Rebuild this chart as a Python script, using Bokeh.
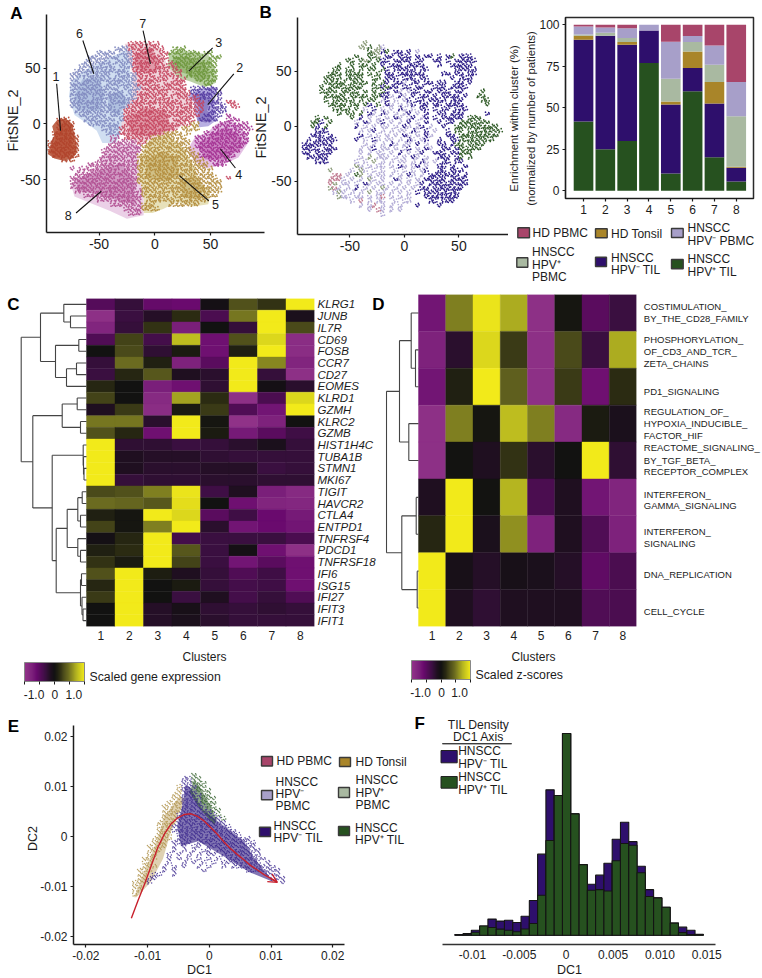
import math
import numpy as np
from bokeh.core.properties import value
from bokeh.embed import file_html
from bokeh.layouts import column, row
from bokeh.models import (Arrow, ColorBar, ColumnDataSource, FixedTicker, LinearAxis, LinearColorMapper,
                          OpenHead, Range1d)
from bokeh.plotting import figure
from bokeh.resources import INLINE
from bokeh.transform import transform

FONT = "Liberation Sans"
INK = "#1c1c1c"

# ---------------------------------------------------------------- condition colours
PINK, GOLD, LAV, SAGE, VIOLET, GREEN = "#A8456A", "#A98529", "#A79FC9", "#A9B9A1", "#2E0F6C", "#26511F"

# ---------------------------------------------------------------- panel A: outlines
HULL_COLOR = ["#BC5F45", "#B4ABE0", "#B6CFA0", "#E3BDE3", "#E6DFB6", "#CDDCF0", "#F0D3DA", "#EACDE6"]
DOT_COLOR = {"1": "#B0432B", "2": "#5238A0", "3": "#6C963A", "4": "#A22E90", "5": "#B18A38",
             "6": "#7F88BF", "7": "#C4425C", "8": "#B04C90"}
HULLS = [
    [(-96,-27),(-93,-17),(-90,-10),(-92,-2),(-88,3),(-80,5),(-74,0),(-72,-10),(-70,-18),(-70,-26),(-74,-31),(-82,-33),(-90,-31)],
    [(29,25),(38,30),(48,33),(55,33),(54,18),(55,3),(48,-2),(40,-3),(36,10),(35,20)],
    [(11,50),(13,63),(20,66),(38,64),(48,62),(54,50),(55,37),(45,33),(32,38),(20,42)],
    [(30,-22),(36,-12),(47,-8),(55,0),(68,3),(80,-6),(85,-15),(75,-30),(60,-37),(45,-40),(35,-33)],
    [(-14,-35),(-8,-20),(0,-10),(12,-10),(26,-22),(35,-38),(42,-55),(50,-60),(48,-72),(35,-74),(20,-70),(8,-76),(-2,-80),(-10,-80),(-10,-60),(-14,-48)],
    [(-77,25),(-75,38),(-65,47),(-50,55),(-35,62),(-22,68),(-22,40),(-20,22),(-28,10),(-28,-3),(-35,-17),(-47,-17),(-52,-6),(-60,0),(-72,8)],
    [(-27,72),(-12,72),(-3,72),(5,66),(12,52),(22,40),(28,30),(34,15),(32,5),(20,-5),(8,-10),(-14,-18),(-25,-14),(-30,0),(-27,15),(-20,25),(-20,45)],
    [(-75,-55),(-70,-48),(-60,-45),(-50,-38),(-42,-22),(-30,-18),(-15,-18),(-14,-35),(-14,-50),(-10,-60),(-10,-82),(-25,-85),(-40,-78),(-60,-70),(-72,-65)],
]
CORE_COLOR = ["#B5432A", "#4F389B", "#6B9236", "#A42C90", "#AE8C36", "#AE8C36", "#7F95C8", "#7F95C8", "#C8445C", "#C8445C", "#A94A92"]
CORES = [
    [(-94,-26),(-90,-16),(-86,-4),(-82,2),(-76,-2),(-74,-14),(-73,-26),(-82,-31),(-90,-30)],
    [(33,25),(42,28),(50,22),(47,12),(52,5),(46,1),(38,3),(40,15)],
    [(16,60),(30,60),(45,55),(50,42),(40,38),(28,45),(18,48)],
    [(38,-18),(50,-10),(65,-3),(78,-12),(78,-22),(62,-32),(45,-32)],
    [(-8,-32),(5,-25),(20,-30),(22,-45),(10,-52),(-8,-48)],
    [(22,-50),(35,-47),(45,-55),(40,-68),(25,-65)],
    [(-72,25),(-65,40),(-50,42),(-45,25),(-50,12),(-68,12)],
    [(-42,25),(-30,30),(-25,20),(-32,8),(-42,12)],
    [(-25,5),(-10,15),(10,12),(15,-5),(-5,-12),(-22,-8)],
    [(-18,62),(-3,68),(6,50),(-8,45),(-18,50)],
    [(-70,-50),(-50,-42),(-30,-35),(-18,-50),(-18,-72),(-35,-68),(-55,-62),(-70,-60)],
]
# Hand-drawn coarse occupancy map of the cloud (the individual cells cannot be read from the picture).
A_MAP = [
 "", 
 ".......... ........77 77777..... .......... ......",
 ".......... .....66677 777777..33 3......... ......",
 ".......... .6666.6667 7777.77333 3333.33... ......",
 ".........6 666666.667 7777777.33 33333.333. ......",
 "........66 6666.66667 777777.733 33333333.. ......",
 ".......666 66666.6667 777.777773 33333333.. ......",
 "......6666 66666666.7 7777777.77 .3333333.. ......",
 ".....66666 6666.66666 7777.77777 .3333333.. ......",
 ".....66.66 6666666666 7777777.77 7..33333.. ......",
 ".....66666 66.6666666 77777.7777 7....33... ......",
 ".....66666 666666.666 6777777777 7.222222.. ......",
 ".....66666 6666666.66 7777777.77 772222222. ......",
 ".....6666. 6666666666 77777777.7 7777222.2. ......",
 ".....66666 666.666667 7777777777 .7777.222. 77....",
 ".....66666 66666.6677 7777.77777 77777.2222 .77...",
 "......6666 666666.777 7777777777 77777.2222 ......",
 ".......666 666.666777 7777777777 7777.2222. 4.....",
 "..111...66 66666.6777 7777777.77 777.2222.. 444...",
 "..1111...6 666666.777 7777777777 7755....44 44444.",
 "..1111.... ..66667777 777777777. 5555...444 444444",
 ".11111.... ...6667777 7777775555 .5...44444 44444.",
 ".111111... ....88.777 7775555555 5..4444444 44444.",
 "1111111... ....888888 7755555555 55.4444444 44444.",
 "1111111... ...8888888 8555555555 55.4444444 4444..",
 "1111111... ..88888888 8555555555 555.444444 444...",
 ".111111... ..88888888 5555555555 5555444444 44....",
 "...111.... .888888888 5555555555 55555.4444 4.....",
 ".........8 8888888888 5555555.55 555555.444 ......",
 ".....8.888 888888.888 5555555555 5555555... ......",
 "......8888 8888888888 555.555555 5555555... ......",
 ".....88888 88888.8888 5555555555 55555555.. 7.....",
 ".....88888 8888888888 5555555555 555555555. ......",
 ".....88888 8888888888 .555555555 5.5555555. ......",
 "......8888 8888888888 8555555555 555555555. ......",
 "........88 8888888888 8555555.55 55555555.. ......",
 ".......... .888888888 8.55555555 555555.... ......",
 ".......... ....888888 8555...555 5555...... ......",
 ".......... .......888 85555..... .......... ......",
 ".......... ........88 8......... .......... ......",
]
LEADER_NAMES = ["1", "6", "7", "3", "2", "4", "5", "8"]
LEADER_LABEL_X = [-88.5, -67.5, -10.8, 57.4, 76.2, 75.3, 54.4, -77.7]
LEADER_LABEL_Y = [42.5, 81.4, 90.4, 73.4, 50.9, -45.5, -72.4, -82.3]
LEADER_X0 = [-88, -64.5, -10.5, 51.9, 70.9, 72.3, 48.4, -70.6]
LEADER_Y0 = [36, 74.9, 83.8, 68.3, 44.9, -39.5, -68.9, -79.9]
LEADER_X1 = [-84.5, -54.7, -3.9, 30.5, 47.5, 58.9, 22, -48]
LEADER_Y1 = [-6, 45, 53.9, 47.3, 17.4, -22.5, -46.4, -60.4]

# ---------------------------------------------------------------- panel B: coarse condition map
B_COLOR = {"p": "#2A1A86", "g": "#2F5A26", "l": "#B3ACD6", "m": "#C07A90", "o": "#8A9A78"}
B_MAP = [
 ".......... ....o..... .......... .......... ......",
 ".......... ...oog.ol. .......... .......... ......",
 ".......... .....goopg .pp.p.l... .......... ......",
 ".......... ..g..ggo.p p.ppp.p.pp .p.pg.ppp. ......",
 ".......... gg.gog.gpp .pppp.pp.. pp.p.ppppp ......",
 "........g. .g.gg.g.p. ppp.pppp.. .p..ppppp. ......",
 ".......gg. gg.g.gg.gp .ppppp.pp. .....ppppp ......",
 "......ggg. gggg.g.g.p p.pppppp.. ..pp.pp.pp ......",
 ".....gggg. gggg..gg.p pp.ppp.pp. ....p.ppp. ......",
 ".....ggggg .gggg.g.gp .ppl.pp.pp .pp..pp.p. ......",
 "....g.gggg gggg..ggpg pp.pp.pp.. ppp.pppp.. ......",
 "....gggg.g ggg.g.g.gp .pl.lpp.pp .ppp.pp... .g....",
 ".....ggggg .gggg.ggpp l.pl.p.pp. p.pppp.p.. gg....",
 ".....g.ggg gg.g.gg.lp .l.lp.pp.p ppp.ppp... .gg...",
 "......gggg .gg.gp.g.p l.l.lp.pp. pp.pppp... ..g...",
 ".......ggg g.g.l.p.l. l.pl.l.pp. p.pp.ppp.. ......",
 "........g. gg.g.pl.pl .l.lp.l.p. .pp.ppp... ..p...",
 "...g.g.... .g.p.l.l.l .pl.lp.lp. p.ppppp.gg g.....",
 "..ggp.g... ..l.pl.lp. l.l.p.l.p. .p.pp.gggg ggg...",
 "..gp.g.... ..p.l.l.ll .l.pl.lp.l ..p..ggggg ggggg.",
 "...ppp.... ...l.lp.l. l.ll.pl.p. l..p.gg.gg gggggg",
 "..ppp.p... ...p.l.l.l .l.pl.l.pl ...pp.gggg ggggg.",
 ".p.ppppp.. ..p.l.pl.l l.l.pl.lp. .p..ppgggg gggg..",
 "ppppppp... ....l.l.l. pl.ll.p.l. .pp.pgg.gg gg....",
 "pppp.ppp.. ...l.lp.ll .l.lp.l.pl ..pp.pgggg g.....",
 "pp.pppp... ...l.l.ll. l.p.l.lp.. ppp.ppggg. ......",
 ".ppppp.... ...l.o.lll .l.l.pl.l. .ppp.pg.g. ......",
 "...ppp.... ..l.l.o.l. l.ll.l.pl. l.pp.pp... ......",
 ".......... ..ol.l.ll. l.pl.lp.l. .pp.p..p.. ......",
 "......o... .l.ol.l.l. .l.l.l.lp. .pp.ppp... ......",
 ".......mm. l.go.l.ll. l.l.pl.l.p pppppp.p.. ......",
 "......mmml .l.l.ol.l. .pl.l.l.pp ppp.pppp.. ......",
 "......mo.l l.l.pl.ll. l.l.l.lp.p pppppppp.. ......",
 "......oml. l.p.l.l.ol .l.l.l.pp. ppppppp... ......",
 ".......lol .l.l.o.ll. l.l.l.p.pp pppppp.... ......",
 "........ol l.ll.l.lm. l.l.l...pp pppppp.... ......",
 ".......... .l.m.l.ll. .l.ll.... pp.ppp.... ......",
 ".......... ...l.lm.l. l.l...p... .p........ ......",
 ".......... .....l.ml. l.l....... .......... ......",
 ".......... ........l. .......... .......... ......",
]

# ---------------------------------------------------------------- stacked bars
BAR_CLUSTERS = [1, 2, 3, 4, 5, 6, 7, 8]
HPVP_TIL = [41.8, 25, 30, 77, 10.5, 60, 20.3, 5.6]
HPVN_TIL = [49.2, 68.4, 58, 19.6, 41.5, 14, 32.3, 8.3]
HD_TONSIL = [2.4, 0, 1.6, 0, 1.8, 10, 12.9, 0.6]
HPVP_PBMC = [0.8, 1.8, 2.4, 0, 13.7, 5.6, 10.5, 30.5]
HPVN_PBMC = [4.8, 3.2, 6, 3.4, 22.3, 3.6, 11.6, 20.5]
HD_PBMC = [1, 1.6, 2, 0, 10.2, 6.8, 12.4, 34.5]

# ---------------------------------------------------------------- heatmap C
GENES = ["KLRG1", "JUNB", "IL7R", "CD69", "FOSB", "CCR7", "CD27", "EOMES", "KLRD1", "GZMH", "KLRC2", "GZMB",
         "HIST1H4C", "TUBA1B", "STMN1", "MKI67", "TIGIT", "HAVCR2", "CTLA4", "ENTPD1", "TNFRSF4", "PDCD1",
         "TNFRSF18", "IFI6", "ISG15", "IFI27", "IFIT3", "IFIT1"]
GENE_VALUES = [
 [-.7,-.4,-.85,-.9,-.05,.5,.3,1.5],
 [-1.4,-.45,-.25,.25,-.6,.75,1.5,-.15],
 [-1.2,-.4,.3,-1.1,0,-.4,1.5,.45],
 [-.65,.4,-.55,1.15,-.95,.5,1.35,-1.35],
 [0,.45,-.35,.1,-.95,.15,1.5,-1.35],
 [-.4,.7,.15,-1.15,-.75,1.5,.85,-1.2],
 [-.45,.2,.55,-.2,-.3,1.5,-.4,-1.4],
 [.2,0,-1.1,-.95,-.35,1.5,-.05,-.3],
 [.4,0,-1.3,1.0,.25,-1.4,-.6,1.35],
 [-.2,.35,-1.35,.1,.35,-.65,-1.0,1.5],
 [.75,.75,-.3,1.5,.05,-1.45,-1.15,0],
 [.5,.2,-.95,1.5,.1,-1.05,-.75,-.5],
 [1.5,-.35,-.35,-.45,-.4,-.3,-.15,-.4],
 [1.5,-.2,-.25,-.25,-.35,-.4,-.4,-.4],
 [1.5,-.2,-.3,-.3,-.25,-.25,-.45,-.4],
 [1.5,-.4,-.35,-.35,-.3,-.3,-.35,-.35],
 [.45,.5,.8,1.45,-.5,-.2,-1.1,-1.3],
 [.7,.65,.55,1.4,0,-.95,-1.2,-1.25],
 [.15,.05,1.5,1.35,-.75,-.5,-.9,-1.05],
 [.4,.05,.8,1.5,-.3,-1.0,-.9,-1.0],
 [-.05,.2,1.5,-.55,-.45,-.45,-.45,-.6],
 [.15,.25,1.5,.55,-.45,-.05,-.95,-1.4],
 [.3,.1,1.5,.4,-.45,-1.0,-.75,-.95],
 [.5,1.5,.12,-.2,-.4,-.65,-.5,-.95],
 [.2,1.5,0,.1,-.4,-.55,-.5,-.95],
 [.35,1.5,0,-.45,-.2,-.55,-.4,-.65],
 [0,1.5,-.25,-.1,-.35,-.4,-.35,-.4],
 [0,1.5,-.25,-.15,-.3,-.4,-.4,-.4],
]
C_TREE = (20.7,
          (40, (63.3, 0, (70, 1, 2)), (55, (78.3, 3, 4), (66, (76, 5, 6), 7))),
          (32.3,
           (61.7, (76.7, 8, 9), (80, 10, 11)),
           (51.7,
            (82.7, 12, (83, 13, (83.5, 14, 15))),
            (55.7,
             (66.7, (77.3, (81.7, 16, 17), (80, 18, 19)), (77.3, 20, (80, 21, 22))),
             (80, (81, 23, 24), (81.5, 25, (82.5, 26, 27)))))))

# ---------------------------------------------------------------- heatmap D
PATHWAY_VALUES = [
 [-1.0,.8,1.45,1.05,-1.4,.05,-.75,-.45],
 [-1.15,-.3,1.35,.35,-1.4,.45,-.45,1.05],
 [-1.0,.15,1.5,.6,-1.4,.35,-.95,.25],
 [-1.4,.8,.05,1.15,.8,-1.3,.1,-.15],
 [-1.4,.02,-.2,.3,-.3,0,1.5,-.35],
 [-.2,1.5,.02,1.1,-.6,-.2,-1.0,-1.2],
 [.2,1.5,-.15,.9,-1.15,-.2,-.65,-1.15],
 [1.5,-.1,-.25,-.1,-.15,-.25,-.8,-.6],
 [1.5,-.2,-.35,-.2,-.2,-.2,-.65,-.6],
]
D_TREE = (386, (399, (410.7, 0, (415, 1, 2)), (408.3, 3, 4)), (401.3, (415.7, 5, 6), (416.7, 7, 8)))
PATHWAY_LINES = [
 ("COSTIMULATION_", 306), ("BY_THE_CD28_FAMILY", 318), ("PHOSPHORYLATION_", 338.7), ("OF_CD3_AND_TCR_", 350.7),
 ("ZETA_CHAINS", 362.7), ("PD1_SIGNALING", 391), ("REGULATION_OF_", 410.7), ("HYPOXIA_INDUCIBLE_", 422.7),
 ("FACTOR_HIF", 434.7), ("REACTOME_SIGNALING_", 447.3), ("BY_TGF_BETA_", 459.7), ("RECEPTOR_COMPLEX", 471.3),
 ("INTERFERON_", 494), ("GAMMA_SIGNALING", 505.3), ("INTERFERON_", 531.3), ("SIGNALING", 543.3),
 ("DNA_REPLICATION", 574.3), ("CELL_CYCLE", 611),
]

# ---------------------------------------------------------------- panel E
E_COLOR = {"g": "#AD8F45", "p": "#34208A", "n": "#2C5A24"}
E_GOLD = [(-.0122,-.0122),(-.0118,-.0122),(-.0095,-.0092),(-.0075,-.0045),(-.0062,.001),(-.0048,.005),(-.004,.0075),(-.0048,.008),(-.0073,.004),(-.0085,-.001),(-.0105,-.007)]
E_VIOLET = [(-.0039,.0102),(-.0031,.0098),(-.0012,.0055),(.0018,.0026),(.0056,-.001),(.0072,-.0042),(.009,-.007),(.0105,-.0092),(.0065,-.0072),(.003,-.0045),(-.0018,-.001),(-.0046,-.002),(-.0052,.002),(-.0043,.0065)]
E_GREEN = [(-.0025,.0112),(-.0017,.0102),(-.0003,.0072),(.0012,.0035),(.0008,.0022),(-.0015,.0055),(-.0032,.0088)]
E_MAP = [
 ".......... ..n", ".......... ppnn", ".......... ppnnn", ".........g pppnn", ".........g pppnnn",
 "........gg ppppnn", "........gg ppppnnn", ".......ggg ppppnnn", "......gggg pppppnn", "......gggg ppppppnn",
 "......gggp pppppppn", "......gggp ppppppppn", ".....ggggp ppppppppp", ".....gggpp pppppppppp",
 ".....gggpp pppppppppp p", ".....ggg.p pppppppppp pp", "....gggg.p pppppppppp pppp", "....ggg.pp pp.ppppppp ppppp",
 "...gggg.p. p.pp.ppppp ppppp", "...ggg..p. p.p.pp.ppp pppppp", "...gg..p.p .p.p.pp.pp pppppp",
 "..ggg..p.p .p.p.p.p.p ppppppp", "..gg...p.. p.p.p.p.pp pppppp.p", "..ggg.p.p. p..p.p..p. ppppppppp",
 ".ggg..p.p. ....p..... ...ppppppp", ".gg.pp..p. .......... .......ppp", ".ggpp..... .......... ........ppp",
 "gggp...... .......... ..........p", "gg", "gg", "g",
]
CURVE_X = [-.01263,-.01156,-.01048,-.00941,-.00833,-.00726,-.00618,-.00511,-.00403,-.00296,-.00188,-.00081,.00027,.00134,.00242,.00349,.00457,.00565,.00672,.0078,.00887,.00995,.01102]
CURVE_Y = [-.01639,-.01291,-.00957,-.00589,-.00221,.00047,.00247,.00368,.00435,.00448,.00395,.00301,.00167,.00033,-.0012,-.00254,-.00368,-.00475,-.00589,-.00676,-.00769,-.00843,-.00923]

# ---------------------------------------------------------------- panel F
F_BIN_START = -.01189
F_BIN_WIDTH = .000884
F_VIOLET = [.3,.8,2.5,4.6,8.0,7.0,7.4,6.3,9.4,17.2,40.2,72.1,69.3,100,60.2,35.0,25.3,29.8,35.7,47.6,56.0,46.4,34.2,22.6,18.5,13.9,6.0,4.0,2.5,.5]
F_GREEN = [0,.2,1.5,4.6,3.8,3.0,2.5,1.7,3.1,5.8,19.8,47.0,69.3,100,60.2,35.0,22.3,22.6,21.9,36.9,45.5,44.6,31.0,19.2,18.5,13.9,6.0,1.3,.3,.3]

# ---------------------------------------------------------------- helpers (all geometry in page pixels)
WIDTH, HEIGHT = 762, 978

# Text and legend keys sit outside the panels' frames, so they live on one transparent page-sized overlay.
ov = figure(width=WIDTH, height=HEIGHT, x_range=Range1d(0, WIDTH), y_range=Range1d(HEIGHT, 0), toolbar_location=None,
            output_backend="svg", min_border=0, x_axis_location=None, y_axis_location=None,
            background_fill_color=None, border_fill_color=None, outline_line_color=None,
            styles={"position": "absolute", "left": "0px", "top": "0px", "pointer-events": "none"})
ov.grid.visible = False

def panel(l, t, w, h, fl, ft, fr, fb, xr, yr, **kw):
    p = figure(width=w, height=h, x_range=Range1d(*xr), y_range=Range1d(*yr), toolbar_location=None,
               output_backend="svg", min_border_left=fl - l, min_border_right=l + w - fr,
               min_border_top=ft - t, min_border_bottom=t + h - fb, frame_align=False,
               background_fill_color=None, border_fill_color=None, outline_line_color=None, **kw)
    p.grid.visible = False
    return p

def style(ax, ticks, size, labels=None, line=True, tick=True, standoff=3, width=1.5, **kw):
    ax.ticker = FixedTicker(ticks=list(ticks))
    ax.minor_tick_line_color = None
    ax.major_label_text_font = FONT
    ax.major_label_text_font_size = f"{size}px"
    ax.major_label_text_color = INK
    ax.major_label_standoff = standoff
    ax.axis_line_color = INK if line else None
    ax.axis_line_width = width
    ax.major_tick_line_color = INK if tick else None
    ax.major_tick_line_width = 1.2
    ax.major_tick_out = 3 if tick else 0
    ax.major_tick_in = 0
    if labels:
        ax.major_label_overrides = labels
    for k, v in kw.items():
        setattr(ax, k, v)

def T(x, y, text, size=12, align="left", angle=0, bold=False, color=INK):
    ov.text([x], [y], text=[text], text_font=value(FONT), text_font_size=f"{size}px", text_align=align,
            text_baseline="middle", text_color=color, angle=angle, text_font_style="bold" if bold else "normal")

def swatch(x0, y0, x1, y1, color, line="#3a3a3a", lw=1.4):
    ov.quad(left=[x0], right=[x1], top=[y0], bottom=[y1], fill_color=color, line_color=line, line_width=lw)

# The clouds cannot be read point by point: each occupied map cell is drawn as a few dots, placed by this table.
CELL_SPOTS = [(.1, .7), (.55, .2), (.85, .6), (.3, .35), (.7, .95), (.2, .05), (.95, .3)]

def read_map(rows, x0, y0, dx, dy, dots=5):
    xs, ys, keys = [], [], []
    for r, text in enumerate(rows):
        for c, ch in enumerate(text.replace(" ", "")):
            if ch != ".":
                start = 3 * r * r + 5 * c * c + r * c
                for i in range(dots):
                    ox, oy = CELL_SPOTS[(start + i) % len(CELL_SPOTS)]
                    xs.append(x0 + (c + ox) * dx)
                    ys.append(y0 - (r - oy) * dy)
                    keys.append(ch)
    return xs, ys, keys

def poly(points):
    return [a for a, _ in points], [b for _, b in points]

# ---------------------------------------------------------------- A
TICKS50 = [-50, 0, 50]
LAB50 = {-50: "-50", 0: "0", 50: "50"}
a = panel(0, 0, 268, 290, 46, 14, 264, 232, (-97.1, 98.4), (-97.4, 98.2))
for hulls, colors, alpha in ((HULLS, HULL_COLOR, .95), (CORES, CORE_COLOR, .4)):
    a.patches([poly(h)[0] for h in hulls], [poly(h)[1] for h in hulls], fill_color=colors, fill_alpha=alpha,
              line_color=None)
ax, ay, ak = read_map(A_MAP, -96, 74, 4, 4)
a.scatter(ax, ay, size=1.8, color=[DOT_COLOR[k] for k in ak], line_color=None, alpha=.9)
a.segment(LEADER_X0, LEADER_Y0, LEADER_X1, LEADER_Y1, line_color="#111111", line_width=1.1)
a.text(LEADER_LABEL_X, LEADER_LABEL_Y, text=LEADER_NAMES, text_font=value(FONT), text_font_size="12.5px",
       text_align="center", text_baseline="middle", text_color=INK)
style(a.xaxis[0], TICKS50, 14, LAB50)
style(a.yaxis[0], TICKS50, 14, LAB50)
T(16, 13, "A", 17, "center", bold=True, color="#000000")
T(12.7, 120, "FitSNE_2", 14.5, "center", math.pi / 2)
T(260, 127, "FitSNE_2", 14.5, "center", math.pi / 2)
T(259, 12, "B", 17, "left", bold=True, color="#000000")

# ---------------------------------------------------------------- B
b = panel(268, 0, 240, 290, 294, 17, 508, 234, (-98.1, 95.5), (-98.5, 99))
bx, by, bk = read_map(B_MAP, -94, 74, 4, 4)
b.scatter(bx, by, size=1.7, color=[B_COLOR[k] for k in bk], line_color=None)
style(b.xaxis[0], TICKS50, 14, LAB50)
style(b.yaxis[0], TICKS50, 14, LAB50)

# ---------------------------------------------------------------- stacked bars + legend
s = panel(508, 0, 254, 290, 565, 17, 753, 198, (.174, 8.79), (-4.6, 104.4))
SERIES = ["HPVP_TIL", "HPVN_TIL", "HD_TONSIL", "HPVP_PBMC", "HPVN_PBMC", "HD_PBMC"]
src = ColumnDataSource(dict(x=BAR_CLUSTERS, HPVP_TIL=HPVP_TIL, HPVN_TIL=HPVN_TIL, HD_TONSIL=HD_TONSIL,
                            HPVP_PBMC=HPVP_PBMC, HPVN_PBMC=HPVN_PBMC, HD_PBMC=HD_PBMC))
s.vbar_stack(SERIES, x="x", width=.9, source=src, color=[GREEN, VIOLET, GOLD, SAGE, LAV, PINK], line_color=None)
s.outline_line_color = "#2a2a2a"
s.outline_line_width = 1.5
style(s.xaxis[0], BAR_CLUSTERS, 12, width=1.2)
style(s.yaxis[0], [0, 25, 50, 75, 100], 12, width=1.2)
T(513, 118, "Enrichment within cluster (%)", 11.3, "center", math.pi / 2)
T(530, 118, "(normalized by number of patients)", 11.3, "center", math.pi / 2)
for box, col in (((517.3, 227.3, 529, 237.3), PINK), ((595, 228.3, 606.7, 237.3), GOLD), ((671, 228, 682.7, 237), LAV),
                 ((516.3, 257.3, 527.3, 266.7), SAGE), ((595, 256.7, 606, 266), VIOLET), ((671, 259, 682.7, 268.3), GREEN)):
    swatch(*box, col)
for x, y, t in ((532, 232, "HD PBMC"), (610.5, 233, "HD Tonsil"), (687, 227.7, "HNSCC"), (687, 240, "HPV⁻ PBMC"),
                (531.5, 251.7, "HNSCC"), (531.5, 264, "HPV⁺"), (531.5, 276, "PBMC"), (610.5, 257.3, "HNSCC"),
                (610.5, 269.7, "HPV⁻ TIL"), (687, 258.3, "HNSCC"), (687, 271, "HPV⁺ TIL")):
    T(x, y, t, 12)

# ---------------------------------------------------------------- heatmaps
ANCHOR_V = [-2, -1.47, -1.2, -.6, -.27, 0, .33, .6, .93, 1.47, 2]
ANCHOR_C = ["#93358A", "#7A1F7A", "#6A0A6E", "#3A0F40", "#1F0F20", "#111111", "#2A2A12", "#4A4A1A", "#6B6B20", "#B5B520", "#F2EA1A"]
rgb = np.array([[int(c[i:i + 2], 16) for i in (1, 3, 5)] for c in ANCHOR_C], float)
grid = np.linspace(-2, 2, 256)
palette = ["#%02x%02x%02x" % tuple(int(round(np.interp(g, ANCHOR_V, rgb[:, k]))) for k in range(3)) for g in grid]
mapper = LinearColorMapper(palette=palette, low=-2, high=2)
HEAT_SCALE = 4 / 3  # colour-bar range -2..2 as on the bar's end ticks

def tree_segments(node, heat_left, cw):
    x0, y0, x1, y1 = [], [], [], []
    to_x = lambda h: .5 + (h - heat_left) / cw
    def walk(n):
        if isinstance(n, int):
            return float(n), heat_left
        h, l, r = n
        yl, hl = walk(l)
        yr, hr = walk(r)
        x0.extend([to_x(h), to_x(h), to_x(h)])
        y0.extend([yl, yl, yr])
        x1.extend([to_x(h), to_x(hl), to_x(hr)])
        y1.extend([yr, yl, yr])
        return (yl + yr) / 2, h
    walk(node)
    return x0, y0, x1, y1

def heat(l, w, fl, ft, fr, heat_left, values, tree):
    cw = (fr - heat_left) / 8
    n = len(values)
    p = panel(l, 290, w, 410, fl, ft, fr, 626, (.5 - (heat_left - fl) / cw, 8.5), (n - .5, -.5), y_axis_location=None)
    xs = [c + 1 for _ in range(n) for c in range(8)]
    ys = [r for r in range(n) for _ in range(8)]
    vs = [v * HEAT_SCALE for row_ in values for v in row_]
    p.rect("x", "y", width=1, height=1, source=ColumnDataSource(dict(x=xs, y=ys, v=vs)),
           fill_color=transform("v", mapper), line_color=transform("v", mapper), line_width=.4)
    x0, y0, x1, y1 = tree_segments(tree, heat_left, cw)
    p.segment(x0, y0, x1, y1, line_color="#444444", line_width=1.1)
    style(p.xaxis[0], range(1, 9), 12, line=False, tick=False, standoff=4)
    return p

def colorbar(p, fl, fb, x0, y0, x1, y1, lab_x):
    cb = ColorBar(color_mapper=mapper, orientation="horizontal", width=x1 - x0, height=y1 - y0,
                  location=(x0 - fl, fb - y1), padding=0, margin=0, background_fill_alpha=0,
                  ticker=FixedTicker(ticks=[-2, -1, 0, 1, 2]),
                  major_label_overrides={-2: "", -1: "", 0: "", 1: "", 2: ""},
                  major_tick_line_color=INK, major_tick_in=0, major_tick_out=3,
                  bar_line_color="#888888", bar_line_width=1)
    p.add_layout(cb)
    for xx, t in zip(lab_x, ("-1.0", "0", "1.0")):
        T(xx, y1 + 10, t, 12, "center")

c = heat(0, 378, 18, 298, 314, 86, GENE_VALUES, C_TREE)
gene_axis = LinearAxis()
style(gene_axis, range(len(GENES)), 11.5, {i: g for i, g in enumerate(GENES)}, line=False, tick=False,
      major_label_text_font_style="italic")
c.add_layout(gene_axis, "right")
T(13, 304, "C", 17, "center", bold=True, color="#000000")
T(204, 656, "Clusters", 12, "center")
T(89, 676, "Scaled gene expression", 12.3)
colorbar(c, 18, 626, 24, 665, 84, 684, (33.5, 54.3, 73.3))

d = heat(378, 384, 385, 294, 636, 418, PATHWAY_VALUES, D_TREE)
for text, y in PATHWAY_LINES:
    T(643.3, y, text, 9.5)
T(533, 656, "Clusters", 12, "center")
T(475, 674, "Scaled z-scores", 12.3)
T(378, 304, "D", 17, "center", bold=True, color="#000000")
colorbar(d, 385, 626, 411, 663, 470, 682, (420, 441, 459))

# ---------------------------------------------------------------- E
e = panel(0, 700, 420, 278, 73, 725, 344, 944, (-.022, .0219), (-.02166, .02214))
for pts, col, alpha in ((E_GOLD, "#B79A55", .45), (E_VIOLET, "#2E1A80", .6), (E_GREEN, "#2C5A24", .55)):
    e.patch(*poly(pts), fill_color=col, fill_alpha=alpha, line_color=None)
ex, ey, ek = read_map(E_MAP, -.0125, .012, .0008, .0008)
e.scatter(ex, ey, size=1.5, color=[E_COLOR[k] for k in ek], line_color=None, alpha=.8)
RED = "#C8202C"
e.line(CURVE_X, CURVE_Y, line_color=RED, line_width=1.4)
e.add_layout(Arrow(end=OpenHead(size=9, line_color=RED, line_width=1.3), x_start=CURVE_X[-2], y_start=CURVE_Y[-2],
                   x_end=CURVE_X[-1], y_end=CURVE_Y[-1], line_color=RED, line_width=1.4))
TE = [-.02, -.01, 0, .01, .02]
LE = {-.02: "-0.02", -.01: "-0.01", 0: "0", .01: "0.01", .02: "0.02"}
style(e.xaxis[0], TE, 12, LE)
style(e.yaxis[0], TE, 12, LE)
T(13, 726, "E", 17, "center", bold=True, color="#000000")
T(414, 723, "F", 17, bold=True, color="#000000")
T(199, 969, "DC1", 12.5, "center")
T(32, 838, "DC2", 12.5, "center", math.pi / 2)
for box, col in (((261, 756, 272, 765.5), PINK), ((339, 757, 350, 766), GOLD), ((261, 790, 272, 799.3), LAV),
                 ((338, 787, 349, 797), SAGE), ((259, 826.7, 270, 836), VIOLET), ((338, 826, 349, 835), GREEN)):
    swatch(*box, col)
for x, y, t in ((276, 760, "HD PBMC"), (355, 761, "HD Tonsil"), (275, 781, "HNSCC"), (275, 793, "HPV⁻"),
                (275, 805.7, "PBMC"), (355, 779.5, "HNSCC"), (355, 792, "HPV⁺"), (355, 804.3, "PBMC"),
                (273, 825.7, "HNSCC"), (273, 837.7, "HPV⁻ TIL"), (354.5, 827, "HNSCC"), (354.5, 839, "HPV⁺ TIL")):
    T(x, y, t, 12)

# ---------------------------------------------------------------- F
f = panel(420, 700, 342, 278, 442, 725, 715, 944, (-.0132, .01593), (-4.6, 104), y_axis_location=None)
lefts = [F_BIN_START + i * F_BIN_WIDTH for i in range(len(F_GREEN))]
rights = [x + F_BIN_WIDTH for x in lefts]
for vals, col in ((F_VIOLET, VIOLET), (F_GREEN, GREEN)):
    f.quad(left=lefts, right=rights, bottom=0, top=vals, fill_color=col, line_color="#141414", line_width=1.1)
TF = [-.01, -.005, 0, .005, .01, .015]
LF = {-.01: "-0.01", -.005: "-0.005", 0: "0", .005: "0.005", .01: "0.010", .015: "0.015"}
style(f.xaxis[0], TF, 12, LF, tick=False, standoff=5, width=1.4, axis_line_color="#333333")
T(478, 724, "TIL Density", 12.2, "center")
T(478, 736.7, "DC1 Axis", 12.2, "center")
swatch(442, 743, 511, 743.6, "#1c1c1c", "#1c1c1c", .6)
swatch(440.5, 750, 456.7, 762.3, VIOLET, "#222222", 1)
swatch(440.5, 776, 456.7, 787.7, GREEN, "#222222", 1)
T(457.7, 750.7, "HNSCC", 12)
T(457.7, 763.3, "HPV⁻ TIL", 12)
T(457.7, 776.7, "HNSCC", 12)
T(457.7, 789, "HPV⁺ TIL", 12)
T(569, 969, "DC1", 12.5, "center")

page = column(row(a, b, s), row(c, d), row(e, f), ov)
open("out.html", "w").write(file_html(page, INLINE))
